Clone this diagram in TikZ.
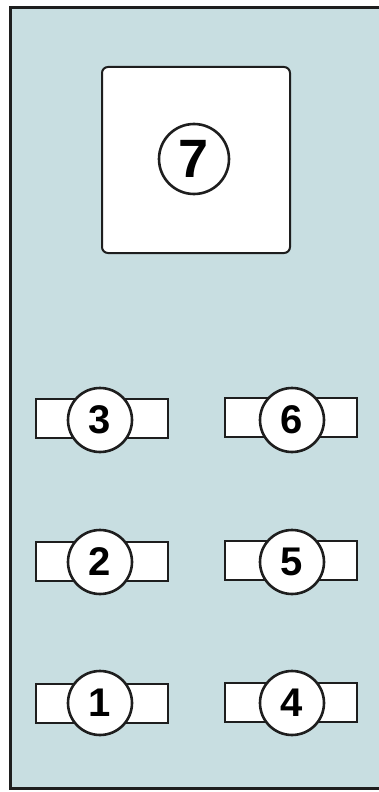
\documentclass[tikz,border=0pt]{standalone}
\usepackage{fontspec}
\setmainfont{Liberation Sans}
\definecolor{panel}{HTML}{C8DEE1}
\definecolor{ink}{HTML}{1E1E1E}
\begin{document}
\begin{tikzpicture}[x=1pt,y=-1pt,
  tab/.style={draw=ink,line width=2pt,fill=white,minimum width=132pt,minimum height=39pt,inner sep=0pt},
  num/.style={draw=ink,line width=2.6pt,fill=white,circle,minimum size=64pt,inner sep=0pt,font=\fontsize{40}{40}\selectfont\bfseries},
  bignum/.style={num,minimum size=70pt,font=\fontsize{54}{54}\selectfont\bfseries}]
\useasboundingbox (0,0) rectangle (379,792);
\fill[white] (0,0) rectangle (379,792);
\path[fill=panel,draw=ink,line width=3pt] (10,8) rectangle (390,788);
\node[draw=ink,line width=2pt,fill=white,rounded corners=6pt,minimum width=188pt,minimum height=186pt,inner sep=0pt] (box) at (196,160) {};
\node[bignum] (c7) at (194,159) {7};
\foreach \n/\x/\y in {3/102/418.5, 2/102/561.5, 1/102/703, 6/291/417.5, 5/291/560.5, 4/291/702.5}{
  \node[tab] (t\n) at (\x,\y) {};
}
\node[num] (c3) at (100,420) {3};
\node[num] (c2) at (100,562) {2};
\node[num] (c1) at (100,703) {1};
\node[num] (c6) at (292,420) {6};
\node[num] (c5) at (292,562) {5};
\node[num] (c4) at (292,703) {4};
\end{tikzpicture}
\end{document}
